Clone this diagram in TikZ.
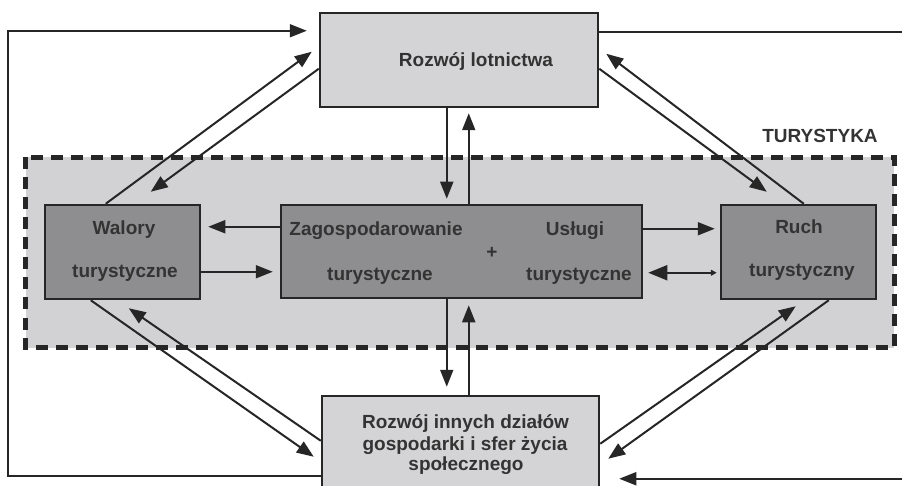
\documentclass[tikz,border=0pt]{standalone}
\usepackage{fontspec}
\setmainfont{Liberation Sans}
\usetikzlibrary{arrows.meta,calc}
\definecolor{lightbox}{HTML}{D4D4D6}
\definecolor{zonefill}{HTML}{D2D2D4}
\definecolor{darkbox}{HTML}{8E8E90}
\definecolor{ink}{HTML}{262626}
\definecolor{txt}{HTML}{333333}
\begin{document}
\begin{tikzpicture}[x=1pt,y=-1pt,
  box/.style={draw=ink, line width=2.5pt, inner sep=0pt, minimum width=#1},
  lbox/.style={box=#1, fill=lightbox, minimum height=94pt},
  dbox/.style={box=#1, fill=darkbox, minimum height=94pt},
  lab/.style={font=\fontsize{19}{21}\selectfont\bfseries, text=txt, inner sep=0pt, anchor=base},
  arr/.style={draw=ink, line width=2pt, -{Triangle[length=17pt,width=13pt]}},
  zone/.style={draw=ink, fill=zonefill, line width=5pt, dash pattern=on 12pt off 8pt},
]
\useasboundingbox (0,0) rectangle (902,486);
% tourism zone
\draw[zone] (25.5,157.5) rectangle (894,347.5);
\node[lab] (tur) at (820,143) {TURYSTYKA};
% boxes
\node[lbox=278pt] (top) at (459,60) {};
\node[dbox=155pt] (walory) at (122.5,252) {};
\node[dbox=361pt, minimum height=93pt] (mid) at (461.5,251.5) {};
\node[dbox=155pt] (ruch) at (798.5,252) {};
\node[lbox=277pt, minimum height=109pt] (bot) at (460.5,450.5) {};
% labels
\node[lab] (ltop) at (476,67) {Rozwój lotnictwa};
\node[lab] (lwal1) at (124,235) {Walory};
\node[lab] (lwal2) at (125,278) {turystyczne};
\node[lab] (lzag1) at (376,236) {Zagospodarowanie};
\node[lab] (lzag2) at (380,280) {turystyczne};
\node[lab] (lplus) at (492,259) {+};
\node[lab] (lusl1) at (575,236) {Usługi};
\node[lab] (lusl2) at (579,280) {turystyczne};
\node[lab] (lruch1) at (799,234) {Ruch};
\node[lab] (lruch2) at (802,277) {turystyczny};
\node[lab] (lbot1) at (465.5,428) {Rozwój innych działów};
\node[lab] (lbot2) at (465,450) {gospodarki i sfer życia};
\node[lab] (lbot3) at (466,470.5) {społecznego};
% diagonal arrows, top
\draw[arr] ($(walory.north west)+(62,0)$) -- ($(top.north west)+(-7,40)$);
\draw[arr] ($(top.north west)+(0,57)$) -- ($(walory.north west)+(107,-12)$);
\draw[arr] ($(top.north east)+(0,57)$) -- ($(ruch.north west)+(47,-12)$);
\draw[arr] ($(ruch.north west)+(84,0)$) -- ($(top.north east)+(7,42)$);
% vertical arrows, top
\draw[arr] ($(top.south west)+(128,0)$) -- ($(mid.north west)+(167,-5)$);
\draw[arr] ($(mid.north west)+(189,0)$) -- ($(top.south west)+(150,5)$);
% horizontal arrows
\draw[arr] ($(mid.north west)+(0,23)$) -- ($(walory.north east)+(7,23)$);
\draw[arr] ($(walory.north east)+(0,68)$) -- ($(mid.north west)+(-7,68)$);
\draw[arr] ($(mid.north east)+(0,25)$) -- ($(ruch.north west)+(-5,25)$);
\draw[draw=ink, line width=2pt, {Triangle[length=19pt,width=15pt]}-{Triangle[length=6pt,width=6pt]}]
  ($(mid.north east)+(5,69)$) -- ($(ruch.north west)+(-3,69)$);
% vertical arrows, bottom
\draw[arr] ($(mid.south west)+(167,0)$) -- ($(bot.north west)+(126,-8)$);
\draw[arr] ($(bot.north west)+(148,0)$) -- ($(mid.south west)+(189,6)$);
% diagonal arrows, bottom
\draw[arr] ($(walory.south west)+(47,0)$) -- ($(bot.north west)+(-7,62)$);
\draw[arr] ($(bot.north west)+(0,46)$) -- ($(walory.south west)+(85,8)$);
\draw[arr] ($(bot.north east)+(0,49)$) -- ($(ruch.south west)+(76,6)$);
\draw[arr] ($(ruch.south west)+(109,0)$) -- ($(bot.north east)+(8,64)$);
% feedback loops
\coordinate (lx) at (8,0);
\coordinate (rx) at (910,0);
\coordinate (lA) at ($(bot.north west)+(0,81)$);
\coordinate (lB) at ($(top.north west)+(-12,19)$);
\draw[arr] (lA) -- (lA -| lx) -- (lB -| lx) -- (lB);
\coordinate (rA) at ($(top.north east)+(0,20)$);
\coordinate (rB) at ($(bot.north east)+(19,84)$);
\draw[arr] (rA) -- (rA -| rx) -- (rB -| rx) -- (rB);
\end{tikzpicture}
\end{document}
